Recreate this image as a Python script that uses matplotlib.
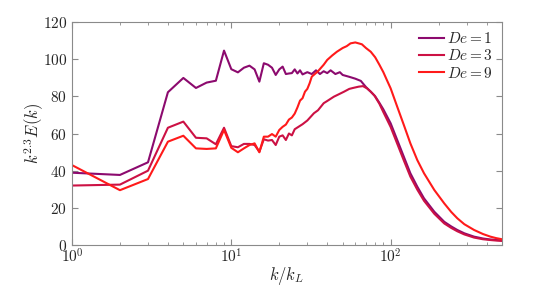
import numpy as np
import matplotlib
matplotlib.use("Agg")
import matplotlib.pyplot as plt
from matplotlib.ticker import LogLocator, FixedLocator

plt.rcParams['mathtext.fontset'] = 'cm'
plt.rcParams['font.family'] = 'serif'
plt.rcParams['font.serif'] = ['cmr10', 'DejaVu Serif']
plt.rcParams['axes.formatter.use_mathtext'] = True

# ---- data ----
k1 = [1, 2, 3, 4, 5, 6, 7, 8, 9, 10, 11, 12, 13, 14, 15, 16, 17, 18, 19, 20,
      21, 22, 23, 24, 25, 26, 27, 28, 30, 32, 34, 36, 38, 40, 42, 45, 48, 50,
      55, 60, 65, 70, 75, 80, 85, 90, 100, 110, 121, 133, 147, 162, 188, 217,
      240, 262, 290, 334, 380, 420, 460, 500]
E_De1 = [38.9, 37.7, 44.5, 82.2, 89.9, 84.5, 87.4, 88.4, 104.6, 94.6, 92.9, 95.4,
         96.5, 94.5, 87.9, 97.8, 97.0, 95.4, 91.5, 94.5,
         96.0, 92.0, 92.3, 92.5, 94.5, 92.3, 94.0, 91.8, 93.0, 92.0, 94.0, 92.0,
         93.5, 92.5, 94.0, 92.0, 93.0, 91.5,
         90.5, 89.5, 88.3, 85.0, 82.5, 80.0, 76.5, 73.0, 65.5, 56.5, 47.5, 38.6,
         31.4, 25.1, 17.9, 12.5, 10.0, 8.1, 6.3, 4.5, 3.5, 3.0, 2.7, 2.5]

k3 = [1, 2, 3, 4, 5, 6, 7, 8, 9, 10, 11, 12, 13, 14, 15, 16, 17, 18, 19, 20,
      21, 22, 23, 24, 25, 28, 30, 33, 35, 38, 40, 44, 47, 51, 55, 58, 63, 67,
      71, 75, 79, 85, 90, 100, 110, 121, 133, 147, 162, 188, 217, 240, 262,
      290, 334, 380, 420, 460, 500]
E_De3 = [32.0, 32.5, 40.0, 63.1, 66.4, 57.7, 57.4, 54.2, 63.1, 53.2, 52.6, 54.4,
         54.4, 53.8, 50.2, 56.9, 56.2, 56.5, 53.8, 58.3,
         59.0, 56.5, 60.0, 59.0, 62.3, 65.0, 67.0, 70.9, 72.5, 76.3, 77.5, 79.8,
         81.0, 82.5, 84.0, 84.5, 85.2, 85.5,
         84.3, 82.5, 80.5, 76.0, 71.5, 63.5, 54.5, 45.5, 36.8, 29.8, 23.8, 16.8,
         11.6, 9.2, 7.4, 5.7, 4.0, 3.1, 2.7, 2.4, 2.2]

k9 = [1, 2, 3, 4, 5, 6, 7, 8, 9, 10, 11, 12, 13, 14, 15, 16, 17, 18, 19, 20,
      21, 22, 23, 24, 25, 26, 27, 28, 29, 30, 31, 32, 35, 38, 40, 43, 46, 50,
      53, 56, 60, 63, 66, 70, 75, 80, 85, 90, 95, 100, 110, 121, 133, 147,
      162, 188, 217, 240, 262, 290, 334, 380, 423, 460, 500]
E_De9 = [43.0, 29.5, 35.5, 55.6, 58.8, 52.0, 51.7, 52.0, 61.9, 52.3, 49.9, 52.0,
         53.8, 54.7, 49.9, 58.3, 58.3, 59.7, 58.3, 61.9,
         63.6, 64.8, 67.5, 68.6, 70.7, 74.0, 77.7, 79.0, 82.5, 84.0, 87.0, 90.6,
         93.5, 97.0, 99.6, 102.0, 104.0, 106.0,
         107.0, 108.5, 109.0, 108.5, 108.0, 106.0, 104.0, 101.0, 97.0, 93.0,
         88.5, 84.3, 74.4, 64.6, 54.7, 45.7, 38.6, 29.6, 22.4, 17.8, 14.4,
         11.2, 8.1, 5.9, 4.5, 3.7, 3.1]

labels = ['$De=1$', '$De=3$', '$De=9$']
colors = ['#8c0a6e', '#cc1144', '#ff1a1a']

yticks = [0, 20, 40, 60, 80, 100, 120]

# ---- figure ----
fig = plt.figure(figsize=(5.55, 2.89), dpi=100)
ax = fig.add_axes([0.1297, 0.1522, 0.7748, 0.7717])

for kk, ee, lab, c in zip([k1, k3, k9], [E_De1, E_De3, E_De9], labels, colors):
    ax.plot(kk, ee, color=c, lw=1.5, label=lab)

ax.set_xscale('log')
ax.set_xlim(1, 500)
ax.set_ylim(0, 120)
ax.yaxis.set_major_locator(FixedLocator(yticks))
ax.set_yticklabels(['$%d$' % v for v in yticks])
ax.xaxis.set_major_locator(LogLocator(base=10))
ax.xaxis.set_minor_locator(LogLocator(base=10, subs=np.arange(2, 10)))

spine_c = '#8a8a8a'
for s in ax.spines.values():
    s.set_color(spine_c)
    s.set_linewidth(0.8)
ax.tick_params(which='both', direction='in', top=True, right=True,
               color=spine_c, labelcolor='#262626', labelsize=11)
ax.tick_params(which='major', length=4)
ax.tick_params(which='minor', length=2.5)
ax.tick_params(axis='x', pad=2)

ax.set_xlabel('$k/k_L$', fontsize=12, color='#262626', labelpad=-1)
ax.set_ylabel('$k^{2.3}E(k)$', fontsize=12, color='#262626', labelpad=-2)

leg = ax.legend(loc='upper right', frameon=False, fontsize=11,
                handlelength=1.6, handletextpad=0.2, labelspacing=0.15,
                borderaxespad=0.2)
for t in leg.get_texts():
    t.set_color('#262626')

fig.savefig('out.png', dpi=100)
